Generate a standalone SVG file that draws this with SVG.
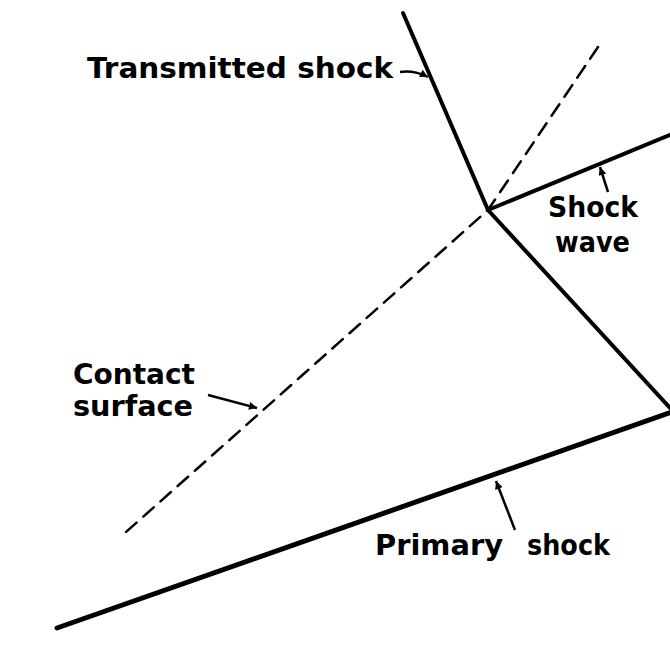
<svg xmlns="http://www.w3.org/2000/svg" width="670" height="667" viewBox="0 0 670 667">
<defs>
<marker id="ah" viewBox="0 0 10 10" refX="10" refY="5" markerWidth="11" markerHeight="8" markerUnits="userSpaceOnUse" orient="auto">
<path d="M0,0 L10,5 L0,10 z" fill="#000"/>
</marker>
</defs>
<style>
.ln{fill:none;stroke:#000;stroke-linecap:round;stroke-linejoin:round}
.sh{stroke-width:4}
.ds{stroke-width:2.5;stroke-dasharray:14 9}
.ar{fill:none;stroke:#000;stroke-width:2.5;marker-end:url(#ah)}
.lb{font-family:"DejaVu Sans",sans-serif;font-size:28px;font-weight:bold;fill:#000}
</style>
<rect width="670" height="667" fill="#fff"/>
<g id="connectors">
<path id="transmitted-shock-line" class="ln sh" d="M403,13 L488,210"/>
<path id="shock-wave-line" class="ln sh" d="M488,210 L672,134"/>
<path id="reflected-line" class="ln sh" d="M488,210 L670,408"/>
<path id="primary-shock-line" class="ln sh" style="stroke-width:5" d="M57,628 L672,412"/>
<path id="contact-surface-line" class="ln ds" d="M598,47 L488,210 L126,532"/>
<path class="ar" d="M400,72 Q414,70 428,77"/>
<path class="ar" d="M608,192 L600,167"/>
<path class="ar" d="M208,395 L257,408"/>
<path class="ar" d="M515,530 L496,481"/>
</g>
<g id="transmitted-shock"><text class="lb" x="87" y="78" textLength="306" lengthAdjust="spacingAndGlyphs">Transmitted shock</text></g>
<g id="shock-wave"><text class="lb" x="548" y="217" textLength="90" lengthAdjust="spacingAndGlyphs">Shock</text><text class="lb" x="555" y="252" textLength="75" lengthAdjust="spacingAndGlyphs">wave</text></g>
<g id="contact-surface"><text class="lb" x="73" y="384" textLength="122" lengthAdjust="spacingAndGlyphs">Contact</text><text class="lb" x="73" y="416" textLength="120" lengthAdjust="spacingAndGlyphs">surface</text></g>
<g id="primary-shock"><text class="lb" x="375" y="555" textLength="128" lengthAdjust="spacingAndGlyphs">Primary</text><text class="lb" x="527" y="555" textLength="83" lengthAdjust="spacingAndGlyphs">shock</text></g>
</svg>
